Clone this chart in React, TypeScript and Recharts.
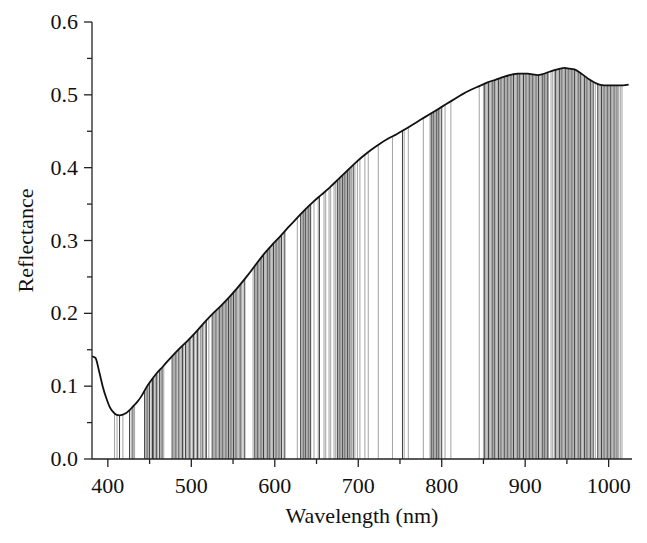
import React from 'react';
import { ComposedChart, Line, XAxis, YAxis, ReferenceLine } from 'recharts';

// reflectance spectrum
const CURVE_NM = [
  381, 385, 390, 394, 398, 402, 406, 410, 414, 418, 422, 426, 430, 435, 440, 446, 452, 458, 466, 476,
  486, 496, 506, 516, 526, 536, 546, 556, 566, 576, 586, 596, 606, 616, 626, 636, 646, 656, 666, 676,
  686, 696, 706, 716, 726, 736, 746, 755, 765, 775, 785, 795, 805, 815, 825, 835, 845, 855, 865, 875,
  885, 891, 897, 903, 909, 915, 920, 925, 935, 942, 947, 953, 959, 965, 971, 977, 983, 989, 995, 1003,
  1011, 1017, 1024,
];
const CURVE_R = [
  0.141, 0.139, 0.118, 0.099, 0.084, 0.072, 0.065, 0.061, 0.060, 0.061, 0.063, 0.067, 0.072, 0.078, 0.086, 0.098, 0.108, 0.117, 0.127, 0.140,
  0.152, 0.163, 0.175, 0.188, 0.200, 0.211, 0.223, 0.236, 0.250, 0.265, 0.280, 0.293, 0.305, 0.318, 0.330, 0.342, 0.353, 0.363, 0.373, 0.384,
  0.395, 0.406, 0.416, 0.425, 0.433, 0.440, 0.446, 0.452, 0.459, 0.466, 0.473, 0.480, 0.487, 0.494, 0.501, 0.507, 0.512, 0.517, 0.521, 0.525,
  0.528, 0.529, 0.529, 0.529, 0.528, 0.527, 0.528, 0.530, 0.534, 0.536, 0.537, 0.536, 0.535, 0.531, 0.526, 0.521, 0.517, 0.514, 0.513, 0.513,
  0.513, 0.513, 0.514,
];

// selected wavelengths, drawn as vertical lines (dark and light strokes)
const DARK_NM = [
  414, 426, 430, 444, 447, 450, 453.5, 455, 458.5, 462, 465, 477, 481.5, 485, 489.5, 493, 497.5, 502.5, 507.5, 513,
  518, 525, 529.5, 534, 537, 541.5, 544.5, 547.5, 550.5, 553.5, 558.5, 564, 576, 579, 583.5, 586.5, 591, 594, 598.5, 601.5,
  605, 608, 612, 631, 634, 637, 640, 643, 653.5, 675, 678, 681, 684, 687, 690, 694, 753, 787.5, 790.5, 793.5,
  796.5, 800, 851.5, 856, 860.5, 863.5, 868, 871, 875.5, 878.5, 883, 886, 890.5, 893.5, 898, 901, 905.5, 908.5, 913, 916,
  920.5, 923.5, 926.5, 936.5, 941, 944, 948.5, 951.5, 956, 959, 963.5, 966.5, 971, 974, 978.5, 981.5, 987, 991.5, 994.5, 999,
  1002, 1006.5, 1010,
];
const LIGHT_NM = [
  408, 411, 418, 428, 432, 445.5, 448.5, 452, 457, 460, 463.5, 467, 478.5, 480, 483, 486.5, 488, 491, 494.5, 496,
  499, 501, 504, 506, 509, 511, 515, 517, 521, 526.5, 528, 531, 532.5, 535.5, 538.5, 540, 543, 546, 549, 552,
  555, 557, 560, 562, 574, 577.5, 580.5, 582, 585, 588, 589.5, 592.5, 595.5, 597, 600, 603, 606.5, 610, 627, 632.5,
  635.5, 638.5, 641.5, 647, 652, 659, 661, 665, 667, 671, 673, 676.5, 679.5, 682.5, 685.5, 688.5, 692, 696, 699, 702,
  708, 712, 724, 741, 755, 760, 778, 786, 789, 792, 795, 798, 804, 811, 845, 850, 853, 854.5, 857.5, 859,
  862, 865, 866.5, 869.5, 872.5, 874, 877, 880, 881.5, 884.5, 887.5, 889, 892, 895, 896.5, 899.5, 902.5, 904, 907, 910,
  911.5, 914.5, 917.5, 919, 922, 925, 928, 931, 933, 935, 938, 939.5, 942.5, 945.5, 947, 950, 953, 954.5, 957.5, 960.5,
  962, 965, 968, 969.5, 972.5, 975.5, 977, 980, 984, 988.5, 990, 993, 996, 997.5, 1000.5, 1003.5, 1005, 1008, 1012, 1014,
  1016,
];

const X_TICKS = [400, 450, 500, 550, 600, 650, 700, 750, 800, 850, 900, 950, 1000];
const Y_TICKS = [0, 0.05, 0.1, 0.15, 0.2, 0.25, 0.3, 0.35, 0.4, 0.45, 0.5, 0.55, 0.6];

const FONT = '"Liberation Serif", "Times New Roman", serif';
const AXIS = '#222';

const curveData = CURVE_NM.map((nm, i) => ({ nm, r: CURVE_R[i] }));

// line top = curve value at that wavelength
const topAt = (w: number) => {
  for (let i = 0; i < CURVE_NM.length - 1; i++) {
    const a = CURVE_NM[i];
    const b = CURVE_NM[i + 1];
    if (w >= a && w <= b) {
      const t = (w - a) / (b - a);
      return CURVE_R[i] + t * (CURVE_R[i + 1] - CURVE_R[i]);
    }
  }
  return 0;
};

const XTick = (props: any) => {
  const { x, y, payload } = props;
  const major = payload.value % 100 === 0;
  return (
    <g>
      <line x1={x} x2={x} y1={y} y2={y + (major ? 8 : 5)} stroke={AXIS} strokeWidth={1.3} />
      {major && (
        <text x={x} y={y + 34} textAnchor="middle" fontFamily={FONT} fontSize={22} fill="#111">
          {payload.value}
        </text>
      )}
    </g>
  );
};

const YTick = (props: any) => {
  const { x, y, payload } = props;
  const major = Math.round(payload.value * 100) % 10 === 0;
  return (
    <g>
      <line x1={x} x2={x - (major ? 8 : 5)} y1={y} y2={y} stroke={AXIS} strokeWidth={1.3} />
      {major && (
        <text x={x - 14} y={y + 7} textAnchor="end" fontFamily={FONT} fontSize={22} fill="#111">
          {payload.value.toFixed(1)}
        </text>
      )}
    </g>
  );
};

export default function App() {
  const bandLines = [
    ...LIGHT_NM.map((w) => ({ w, color: '#a2a2a2' })),
    ...DARK_NM.map((w) => ({ w, color: '#3f3f3f' })),
  ];

  return (
    <div style={{ width: 631, height: 527 }}>
      <ComposedChart
        width={631}
        height={527}
        data={curveData}
        margin={{ top: 14, right: 7, bottom: 10, left: 4 }}
      >
        <XAxis
          dataKey="nm"
          type="number"
          domain={[381, 1028]}
          ticks={X_TICKS}
          interval={0}
          allowDataOverflow
          height={66}
          tickSize={0}
          tickMargin={0}
          tickLine={false}
          axisLine={{ stroke: AXIS, strokeWidth: 1.3 }}
          tick={(p: any) => <XTick {...p} />}
          label={{
            value: 'Wavelength (nm)',
            position: 'insideBottom',
            offset: 2,
            style: { fontFamily: FONT, fontSize: 22, fill: '#111' },
          }}
        />
        <YAxis
          type="number"
          domain={[0, 0.6]}
          ticks={Y_TICKS}
          interval={0}
          allowDataOverflow
          width={80}
          tickSize={0}
          tickMargin={0}
          tickLine={false}
          axisLine={{ stroke: AXIS, strokeWidth: 1.3 }}
          tick={(p: any) => <YTick {...p} />}
          label={{
            value: 'Reflectance',
            angle: -90,
            position: 'insideLeft',
            offset: 13,
            style: { fontFamily: FONT, fontSize: 22, fill: '#111', textAnchor: 'middle' },
          }}
        />
        {bandLines.map((b, i) => (
          <ReferenceLine
            key={i}
            segment={[{ x: b.w, y: 0 }, { x: b.w, y: topAt(b.w) }]}
            stroke={b.color}
            strokeWidth={1}
            ifOverflow="visible"
          />
        ))}
        <Line
          dataKey="r"
          type="monotone"
          stroke="#111"
          strokeWidth={1.8}
          dot={false}
          isAnimationActive={false}
        />
      </ComposedChart>
    </div>
  );
}
